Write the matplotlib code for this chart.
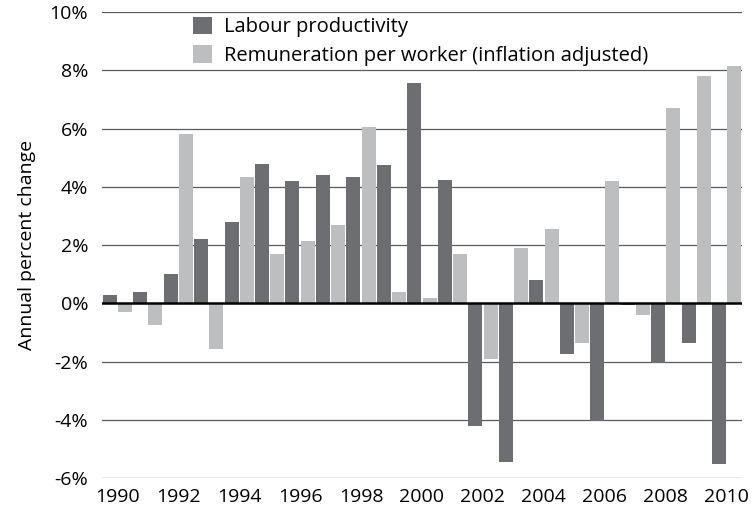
import matplotlib
matplotlib.use("Agg")
import matplotlib.pyplot as plt
import numpy as np

years = list(range(1990, 2011))
labour_productivity = [0.3, 0.4, 1.0, 2.2, 2.8, 4.8, 4.2, 4.4, 4.35, 4.75, 7.55,
                       4.25, -4.2, -5.45, 0.8, -1.75, -4.05, -0.07, -2.05, -1.35, -5.5]
remuneration = [-0.3, -0.75, 5.8, -1.55, 4.35, 1.7, 2.15, 2.7, 6.05, 0.4, 0.2,
                1.7, -1.9, 1.9, 2.55, -1.35, 4.2, -0.4, 6.7, 7.8, 8.15]
yticks = [-6, -4, -2, 0, 2, 4, 6, 8, 10]
xtick_years = list(range(1990, 2011, 2))

plt.rcParams['font.family'] = ['Open Sans', 'DejaVu Sans']

fig = plt.figure(figsize=(7.53, 5.13), dpi=100)
ax = fig.add_axes([102/753, 1-478.3/513, 640/753, (478.3-12)/513])

x = np.arange(len(years))
dark = '#6d6e71'
light = '#bcbec0'
w = 0.46
ax.bar(x - 0.25, labour_productivity, width=w, color=dark, label='Labour productivity', zorder=3)
ax.bar(x + 0.25, remuneration, width=w, color=light, label='Remuneration per worker (inflation adjusted)', zorder=3)

ax.set_xlim(-0.5, len(years) - 0.5)
ax.set_ylim(-6, 10)
ax.set_yticks(yticks)
ax.set_yticklabels([f'{v}%' for v in yticks])
ax.set_xticks([years.index(y) for y in xtick_years])
ax.set_xticklabels([str(y) for y in xtick_years])
for v in yticks:
    if v == 0:
        continue
    ax.axhline(v, color='#5a5a5a', lw=0.9, zorder=1)
ax.axhline(0, color='black', lw=1.8, zorder=4)

for s in ax.spines.values():
    s.set_visible(False)
ax.tick_params(axis='both', length=0, labelsize=14, colors='black')
ax.tick_params(axis='y', pad=10)
ax.tick_params(axis='x', pad=7)
ax.set_ylabel('Annual percent change', fontsize=14, labelpad=10)

ax.legend(loc='upper left', bbox_to_anchor=(0.142, 0.99), frameon=False, fontsize=14.5,
          handlelength=0.95, handleheight=0.95, handletextpad=0.6, labelspacing=0.4,
          borderaxespad=0, borderpad=0)

fig.savefig('out.png', dpi=100)
